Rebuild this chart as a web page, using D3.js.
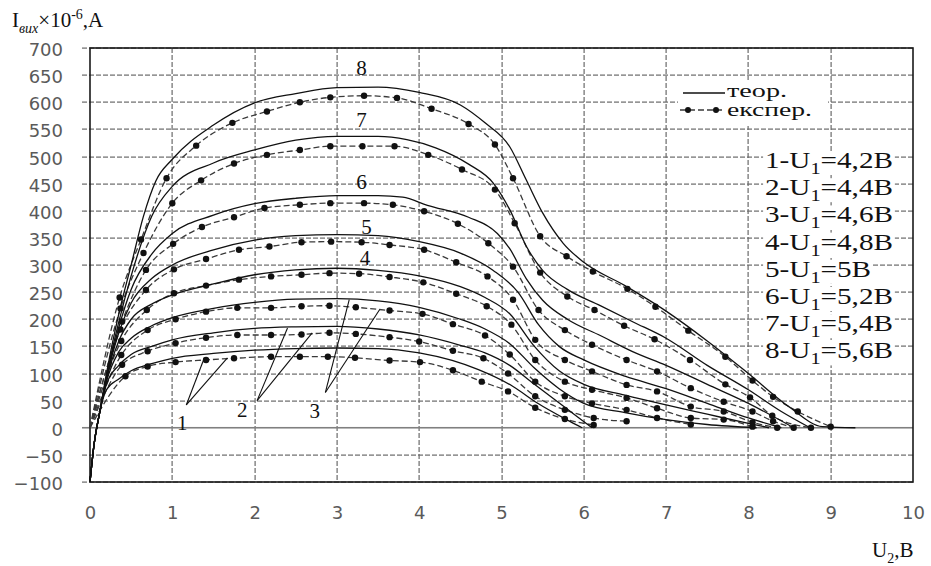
<!DOCTYPE html>
<html>
<head>
<meta charset="utf-8">
<script src="https://cdn.jsdelivr.net/npm/d3@7"></script>
<style>
  body { margin: 0; background: #fff; }
  svg { display: block; }
</style>
</head>
<body>
<div id="chart"></div>
<script>
// theoretical curves (solid), [U2, I]
const theor1 = [[0,-100],[0.05,-30],[0.12,30],[0.2,70],[0.35,90],[0.5,105],[0.75,118],[1,128],[1.5,137],[2,143],[2.5,146],[3,147],[3.5,146],[4,138],[4.4,124],[4.72,107],[5.14,76],[5.43,46],[5.79,15],[5.98,0]];
const theor2 = [[0,-100],[0.05,-30],[0.12,30],[0.2,80],[0.35,115],[0.5,135],[0.75,150],[1,162],[1.5,175],[2,183],[2.5,186],[3,187],[3.5,182],[4,171],[4.5,152],[4.8,138],[5.1,115],[5.4,80],[5.75,40],[6.1,0]];
const theor3 = [[0,-100],[0.05,-30],[0.12,30],[0.2,85],[0.35,140],[0.5,165],[0.75,188],[1,203],[1.5,220],[2,231],[2.5,237],[3,238],[3.5,234],[4,222],[4.5,200],[4.8,182],[5.1,155],[5.4,110],[5.7,72],[6,45],[6.5,28],[7,15],[7.5,6],[8.1,0]];
const theor4 = [[0,-100],[0.05,-30],[0.12,30],[0.2,88],[0.35,160],[0.5,200],[0.75,228],[1,245],[1.5,265],[2,282],[2.5,291],[3,294],[3.5,290],[4,280],[4.5,260],[4.8,240],[5.1,210],[5.4,150],[5.7,105],[6,80],[6.5,60],[7,42],[7.5,25],[8,8],[8.25,0]];
const theor5 = [[0,-100],[0.05,-30],[0.12,30],[0.2,90],[0.35,175],[0.5,230],[0.75,275],[1,300],[1.5,328],[2,346],[2.5,354],[3,356],[3.5,354],[4,343],[4.5,322],[4.9,290],[5.2,250],[5.45,190],[5.7,150],[6,125],[6.5,95],[7,72],[7.5,45],[8,18],[8.4,0]];
const theor6 = [[0,-100],[0.05,-30],[0.12,30],[0.2,92],[0.35,185],[0.5,255],[0.75,320],[1,358],[1.5,392],[2,413],[2.5,423],[3,428],[3.5,428],[3.8,425],[4.1,410],[4.6,388],[4.95,358],[5.1,330],[5.3,275],[5.5,235],[5.8,200],[6.2,170],[6.6,140],[7,115],[7.5,80],[8,45],[8.55,0]];
const theor7 = [[0,-100],[0.05,-30],[0.12,30],[0.2,95],[0.35,195],[0.5,280],[0.75,390],[1,445],[1.5,488],[2,512],[2.5,530],[3,537],[3.5,537],[3.85,531],[4.2,516],[4.6,486],[4.9,451],[5.1,402],[5.3,335],[5.5,290],[5.8,255],[6.2,225],[6.6,195],[7,165],[7.5,115],[8,70],[8.4,30],[8.75,0]];
const theor8 = [[0,-100],[0.05,-30],[0.12,30],[0.2,100],[0.35,210],[0.5,300],[0.65,390],[0.8,455],[1,495],[1.5,558],[2,599],[2.5,616],[3,627],[3.5,628],[4,618],[4.5,595],[4.8,562],[5.1,518],[5.3,457],[5.5,396],[5.75,340],[6,305],[6.5,262],[7,215],[7.5,160],[8,100],[8.5,38],[8.9,2],[9.3,0]];

// experimental curves (dashed with dots)
const exper1 = [[0,0],[0.43,95],[0.70,113],[1.04,121],[1.41,125],[1.75,128],[2.2,131],[2.55,131],[2.89,131],[3.22,129],[3.64,124],[4.01,121],[4.41,106],[4.76,85],[5.08,67],[5.41,37],[5.77,16],[6.12,5]];
const exper2 = [[0,0],[0.39,116],[0.70,141],[1.04,156],[1.41,166],[1.79,171],[2.2,171],[2.57,172],[2.91,175],[3.23,173],[3.64,167],[4.0,159],[4.41,142],[4.78,128],[5.08,100],[5.41,58],[5.77,33],[6.12,18],[6.52,12]];
const exper3 = [[0,0],[0.38,134],[0.70,180],[1.04,200],[1.41,214],[1.79,221],[2.2,221],[2.57,224],[2.91,225],[3.23,222],[3.64,216],[4.04,210],[4.41,191],[4.8,170],[5.1,135],[5.41,85],[5.77,58],[6.1,45],[6.52,33],[6.89,18],[7.3,6]];
const exper4 = [[0,0],[0.38,160],[0.69,217],[1.02,248],[1.41,262],[1.81,273],[2.2,279],[2.57,282],[2.91,285],[3.27,284],[3.64,278],[4.05,268],[4.45,247],[4.82,224],[5.12,190],[5.41,125],[5.77,85],[6.1,70],[6.52,55],[6.89,36],[7.3,18],[7.7,15],[8.05,2]];
const exper5 = [[0,0],[0.37,181],[0.68,254],[1.02,292],[1.41,311],[1.81,328],[2.18,334],[2.57,342],[2.93,343],[3.3,342],[3.64,337],[4.06,328],[4.45,305],[4.83,279],[5.14,236],[5.41,162],[5.77,125],[6.1,104],[6.52,79],[6.89,67],[7.3,39],[7.7,30],[8.05,10],[8.35,0]];
const exper6 = [[0,0],[0.39,196],[0.68,291],[1.01,339],[1.36,370],[1.75,388],[2.12,405],[2.55,411],[2.92,414],[3.33,414],[3.68,411],[4.06,399],[4.47,376],[4.84,340],[5.14,297],[5.45,217],[5.77,180],[6.1,153],[6.52,125],[6.89,104],[7.3,73],[7.7,48],[8.05,30],[8.3,12],[8.55,0]];
const exper7 = [[0,0],[0.37,220],[0.65,322],[1.0,414],[1.35,456],[1.75,487],[2.15,503],[2.55,512],[2.92,519],[3.31,519],[3.70,519],[4.11,503],[4.52,476],[4.92,439],[5.16,377],[5.47,286],[5.80,242],[6.13,217],[6.49,188],[6.86,163],[7.29,125],[7.72,80],[8.02,56],[8.29,22],[8.76,0]];
const exper8 = [[0,0],[0.36,240],[0.62,347],[0.93,460],[1.29,520],[1.73,562],[2.15,583],[2.55,600],[2.92,609],[3.33,612],[3.73,608],[4.15,588],[4.6,560],[4.92,522],[5.14,460],[5.47,353],[5.79,316],[6.11,288],[6.53,256],[6.87,223],[7.27,179],[7.72,131],[8.05,87],[8.3,57],[8.6,30],[9.0,2]];

const xTicks = [0, 1, 2, 3, 4, 5, 6, 7, 8, 9, 10];
const yTicks = [-100, -50, 0, 50, 100, 150, 200, 250, 300, 350, 400, 450, 500, 550, 600, 650, 700];

// curve number labels: [number, U2, I]
const curveLabels = [["8", 3.3, 663], ["7", 3.3, 568], ["6", 3.3, 454], ["5", 3.36, 371], ["4", 3.34, 313]];
// labels with two leader lines: [text, labelU2, labelI, startU2, startI, endA, endB]
const leaderLabels = [
    ["1", 1.12, 9, 1.17, 42, [1.39, 129], [1.67, 129]],
    ["2", 1.85, 33, 2.03, 50, [2.40, 184], [2.70, 175]],
    ["3", 2.73, 31, 2.86, 65, [3.15, 236], [3.52, 218]]
];
const voltages = ["4,2", "4,4", "4,6", "4,8", "5", "5,2", "5,4", "5,6"];

const theorSeries = [theor1, theor2, theor3, theor4, theor5, theor6, theor7, theor8];
const experSeries = [exper1, exper2, exper3, exper4, exper5, exper6, exper7, exper8];

const W = 931, H = 566;
const margin = { top: 48, left: 90, right: 18, bottom: 84 };
const width = W - margin.left - margin.right;
const height = H - margin.top - margin.bottom;

const svg = d3.select("#chart").append("svg")
    .attr("width", W)
    .attr("height", H);

const g = svg.append("g")
    .attr("transform", "translate(" + margin.left + "," + margin.top + ")");

const x = d3.scaleLinear().domain([0, 10]).range([0, width]);
const y = d3.scaleLinear().domain([-100, 700]).range([height, 0]);

// dashed rules drawn as small filled rectangles (dash 5, gap 2)
const dashLen = 5, dashStep = 7;
const hDashes = [];
yTicks.filter((d) => d !== 0).forEach((d) => {
    for (let s = -8; s < width; s += dashStep) {
        hDashes.push({ x: s, y: Math.round(y(d)), w: Math.min(dashLen, width - s) });
    }
});
const vDashes = [];
xTicks.slice(1, -1).forEach((d) => {
    for (let s = 0; s < height; s += dashStep) {
        vDashes.push({ x: Math.round(x(d)), y: s, h: Math.min(dashLen, height - s) });
    }
});

const rules = g.append("g").attr("class", "rules");

rules.selectAll(".rule-h")
    .data(hDashes)
    .enter().append("rect")
    .attr("class", "rule-h")
    .attr("x", (d) => d.x)
    .attr("y", (d) => d.y - 0.5)
    .attr("width", (d) => d.w)
    .attr("height", 1.2)
    .attr("fill", "#6a6a6a");

rules.selectAll(".rule-v")
    .data(vDashes)
    .enter().append("rect")
    .attr("class", "rule-v")
    .attr("x", (d) => d.x - 0.5)
    .attr("y", (d) => d.y)
    .attr("width", 1.2)
    .attr("height", (d) => d.h)
    .attr("fill", "#6a6a6a");

rules.append("rect")
    .attr("class", "zero")
    .attr("x", -8)
    .attr("y", y(0) - 0.8)
    .attr("width", width + 8)
    .attr("height", 1.6)
    .attr("fill", "#808080");

// tick labels
const yAxis = g.append("g")
    .attr("class", "y axis")
    .call(d3.axisLeft(y).tickValues(yTicks).tickSize(0).tickPadding(27));
yAxis.select(".domain").remove();
yAxis.selectAll("text")
    .attr("dy", "0.42em")
    .style("font-family", "'DejaVu Sans', Verdana, sans-serif")
    .style("font-size", "18px")
    .attr("fill", "#5a5a5a");

const xAxis = g.append("g")
    .attr("class", "x axis")
    .attr("transform", "translate(0," + height + ")")
    .call(d3.axisBottom(x).tickValues(xTicks).tickSize(0).tickPadding(32));
xAxis.select(".domain").remove();
xAxis.selectAll("text")
    .attr("dy", "0.3em")
    .style("font-family", "'DejaVu Sans', Verdana, sans-serif")
    .style("font-size", "18px")
    .attr("fill", "#5a5a5a");

// frame
g.append("rect")
    .attr("width", width)
    .attr("height", height)
    .attr("fill", "none")
    .attr("stroke", "#1a1a1a")
    .attr("stroke-width", 1.6);

const line = d3.line()
    .x((d) => x(d[0]))
    .y((d) => y(d[1]))
    .curve(d3.curveMonotoneX);

g.selectAll(".exper")
    .data(experSeries)
    .enter().append("path")
    .attr("class", "exper")
    .attr("d", line)
    .attr("fill", "none")
    .attr("stroke", "#3a3a3a")
    .attr("stroke-width", 1.3)
    .attr("stroke-dasharray", "6,3");

g.selectAll(".theor")
    .data(theorSeries)
    .enter().append("path")
    .attr("class", "theor")
    .attr("d", line)
    .attr("fill", "none")
    .attr("stroke", "#111")
    .attr("stroke-width", 1.3);

g.selectAll(".dot")
    .data(experSeries.flatMap((s) => s.slice(1)))
    .enter().append("circle")
    .attr("class", "dot")
    .attr("cx", (d) => x(d[0]))
    .attr("cy", (d) => y(d[1]))
    .attr("r", 3.2)
    .attr("fill", "#111");

const serif = "'Liberation Serif', 'Times New Roman', serif";

// curve numbers
g.selectAll(".curve-label")
    .data(curveLabels)
    .enter().append("text")
    .attr("class", "curve-label")
    .attr("x", (d) => x(d[1]))
    .attr("y", (d) => y(d[2]))
    .attr("dy", "0.35em")
    .attr("text-anchor", "middle")
    .style("font-family", serif)
    .style("font-size", "21px")
    .attr("fill", "#111")
    .text((d) => d[0]);

// labels 1, 2, 3 with leaders
leaderLabels.forEach((d) => {
    [d[5], d[6]].forEach((e) => {
        g.append("line")
            .attr("x1", x(d[3])).attr("y1", y(d[4]))
            .attr("x2", x(e[0])).attr("y2", y(e[1]))
            .attr("stroke", "#111")
            .attr("stroke-width", 1.1);
    });
    g.append("text")
        .attr("x", x(d[1]))
        .attr("y", y(d[2]))
        .attr("dy", "0.35em")
        .attr("text-anchor", "middle")
        .style("font-family", serif)
        .style("font-size", "21px")
        .attr("fill", "#111")
        .text(d[0]);
});

// legend: line styles
const leg = g.append("g").attr("transform", "translate(588,32)");
leg.append("rect")
    .attr("x", 0).attr("y", 0).attr("width", 150).attr("height", 46)
    .attr("fill", "#fff");
leg.append("line")
    .attr("x1", 5).attr("x2", 47).attr("y1", 13).attr("y2", 13)
    .attr("stroke", "#111").attr("stroke-width", 1.3);
leg.append("line")
    .attr("x1", 2).attr("x2", 47).attr("y1", 30).attr("y2", 30.01)
    .attr("stroke", "#3a3a3a").attr("stroke-width", 1.3).attr("stroke-dasharray", "6,3");
leg.selectAll("circle")
    .data([10, 38])
    .enter().append("circle")
    .attr("cx", (d) => d).attr("cy", 30).attr("r", 3).attr("fill", "#111");
leg.append("text")
    .attr("x", 49).attr("y", 17)
    .attr("textLength", 60).attr("lengthAdjust", "spacingAndGlyphs")
    .style("font-family", serif).style("font-size", "18px").attr("fill", "#111")
    .text("теор.");
leg.append("text")
    .attr("x", 49).attr("y", 36)
    .attr("textLength", 85).attr("lengthAdjust", "spacingAndGlyphs")
    .style("font-family", serif).style("font-size", "18px").attr("fill", "#111")
    .text("експер.");

// legend: U1 values (horizontally stretched like the source)
const rows = g.append("g").attr("class", "u1-legend");
voltages.forEach((v, i) => {
    const by = 120 + i * 27.2;
    const row = rows.append("g")
        .attr("transform", "translate(675," + by + ") scale(1.27,1)");
    const bg = row.append("rect").attr("fill", "#fff");
    const t = row.append("text")
        .style("font-family", serif)
        .style("font-size", "23px")
        .attr("fill", "#111");
    t.append("tspan").text((i + 1) + "-U");
    t.append("tspan").attr("dy", 6).style("font-size", "16px").text("1");
    t.append("tspan").attr("dy", -6).text("=" + v + "В");
    const bb = t.node().getBBox();
    bg.attr("x", bb.x - 1.5).attr("y", -17)
        .attr("width", bb.width + 3).attr("height", 24);
});

// axis titles
const yt = svg.append("text")
    .attr("x", 12).attr("y", 27)
    .style("font-family", serif).style("font-size", "21px").attr("fill", "#111");
yt.append("tspan").text("I");
yt.append("tspan").attr("dy", 6).style("font-style", "italic").style("font-size", "14px").text("вих");
yt.append("tspan").attr("dy", -6).text("×10");
yt.append("tspan").attr("dy", -8).style("font-size", "14px").text("-6");
yt.append("tspan").attr("dy", 8).text(",А");

const xt = svg.append("text")
    .attr("x", 872).attr("y", 557)
    .style("font-family", serif).style("font-size", "21px").attr("fill", "#111");
xt.append("tspan").text("U");
xt.append("tspan").attr("dy", 6).style("font-size", "14px").text("2");
xt.append("tspan").attr("dy", -6).text(",В");
</script>
</body>
</html>
